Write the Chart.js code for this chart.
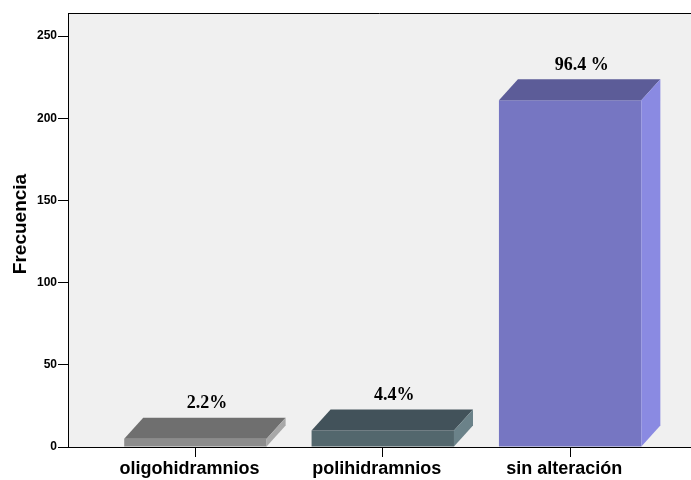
<!DOCTYPE html>
<html>
<head>
<meta charset="utf-8">
<script src="https://cdn.jsdelivr.net/npm/chart.js@4.4.1/dist/chart.umd.min.js"></script>
<style>
  html, body { margin: 0; padding: 0; background: #ffffff; }
  #wrap { width: 691px; height: 480px; }
</style>
</head>
<body>
<div id="wrap"><canvas id="chart" width="691" height="480"></canvas></div>
<script>
// Categories and counts
const categories = ['oligohidramnios', 'polihidramnios', 'sin alteración'];
const frecuencias = [5, 10, 211];
const porcentajes = ['2.2%', '4.4%', '96.4 %'];
const yTicks = [0, 50, 100, 150, 200, 250];

// Face colours for the 3D boxes
const frontColors = ['#8c8c8c', '#53676d', '#7676c2'];
const topColors = ['#6f6f6f', '#42525a', '#5c5c98'];
const sideColors = ['#a8a8a8', '#6b8289', '#8a8ae2'];

const DEPTH_X = 19;
const DEPTH_Y = 21;
const SANS = '"Liberation Sans", Arial, sans-serif';
const SERIF = '"Liberation Serif", "Times New Roman", serif';

// Grey plot background, top frame line and axis title
const frame = {
  id: 'frame',
  beforeDraw(chart) {
    const { ctx, chartArea: a } = chart;
    ctx.save();
    ctx.fillStyle = '#f0f0f0';
    ctx.fillRect(a.left, a.top, chart.width - a.left, a.bottom - a.top);
    ctx.restore();
  },
  afterDraw(chart) {
    const { ctx, chartArea: a } = chart;
    ctx.save();
    ctx.strokeStyle = '#000000';
    ctx.lineWidth = 1;
    ctx.beginPath();
    ctx.moveTo(a.left, a.top + 0.5);
    ctx.lineTo(chart.width, a.top + 0.5);
    ctx.stroke();
    ctx.translate(20.5, 224);
    ctx.rotate(-Math.PI / 2);
    ctx.fillStyle = '#000000';
    ctx.font = 'bold 19px ' + SANS;
    ctx.textAlign = 'center';
    ctx.textBaseline = 'middle';
    ctx.fillText('Frecuencia', 0, 0);
    ctx.restore();
  }
};

// Top and side faces plus percentage labels
const boxes = {
  id: 'boxes',
  afterDatasetsDraw(chart) {
    const { ctx } = chart;
    const meta = chart.getDatasetMeta(0);
    ctx.save();
    meta.data.forEach((el, i) => {
      const p = el.getProps(['x', 'y', 'base', 'width'], true);
      const x0 = p.x - p.width / 2;
      const x1 = p.x + p.width / 2;
      const yt = p.y;
      const yb = p.base;
      ctx.fillStyle = topColors[i];
      ctx.beginPath();
      ctx.moveTo(x0, yt);
      ctx.lineTo(x1, yt);
      ctx.lineTo(x1 + DEPTH_X, yt - DEPTH_Y);
      ctx.lineTo(x0 + DEPTH_X, yt - DEPTH_Y);
      ctx.closePath();
      ctx.fill();
      ctx.fillStyle = sideColors[i];
      ctx.beginPath();
      ctx.moveTo(x1, yt);
      ctx.lineTo(x1 + DEPTH_X, yt - DEPTH_Y);
      ctx.lineTo(x1 + DEPTH_X, yb - DEPTH_Y);
      ctx.lineTo(x1, yb);
      ctx.closePath();
      ctx.fill();
      ctx.fillStyle = '#000000';
      ctx.font = 'bold 18px ' + SERIF;
      ctx.textAlign = 'center';
      ctx.textBaseline = 'middle';
      ctx.fillText(porcentajes[i], p.x + DEPTH_X / 2 + 2, yt - DEPTH_Y - 14);
    });
    ctx.restore();
  }
};

new Chart(document.getElementById('chart'), {
  type: 'bar',
  data: {
    datasets: [{
      data: frecuencias.map((v, i) => ({ x: i, y: v })),
      backgroundColor: frontColors,
      borderWidth: 0,
      categoryPercentage: 1.0,
      barPercentage: 0.76
    }]
  },
  options: {
    responsive: false,
    animation: false,
    layout: { padding: { top: 13, right: 0, left: 0, bottom: 0 } },
    plugins: { legend: { display: false }, tooltip: { enabled: false } },
    scales: {
      x: {
        type: 'linear',
        offset: false,
        min: -0.68,
        max: 2.645,
        afterBuildTicks(scale) {
          scale.ticks = categories.map((c, i) => ({ value: i }));
        },
        afterFit(scale) { scale.height = 33; },
        border: { display: true, color: '#000000', width: 1 },
        grid: {
          display: true, offset: false, drawOnChartArea: false, drawTicks: true,
          tickLength: 10, color: '#000000', lineWidth: 1
        },
        ticks: {
          autoSkip: false,
          maxRotation: 0,
          padding: 1,
          labelOffset: -6,
          color: '#000000',
          font: { family: SANS, size: 18, weight: 'bold' },
          callback: (v) => categories[v]
        }
      },
      y: {
        min: 0,
        max: 264,
        afterBuildTicks(scale) {
          scale.ticks = yTicks.map(v => ({ value: v }));
        },
        afterFit(scale) { scale.width = 68; },
        border: { display: true, color: '#000000', width: 1 },
        grid: {
          display: true, drawOnChartArea: false, drawTicks: true,
          tickLength: 10, color: '#000000', lineWidth: 1
        },
        ticks: {
          padding: 1,
          color: '#000000',
          font: { family: SANS, size: 12, weight: 'bold' }
        }
      }
    }
  },
  plugins: [frame, boxes]
});
</script>
</body>
</html>
